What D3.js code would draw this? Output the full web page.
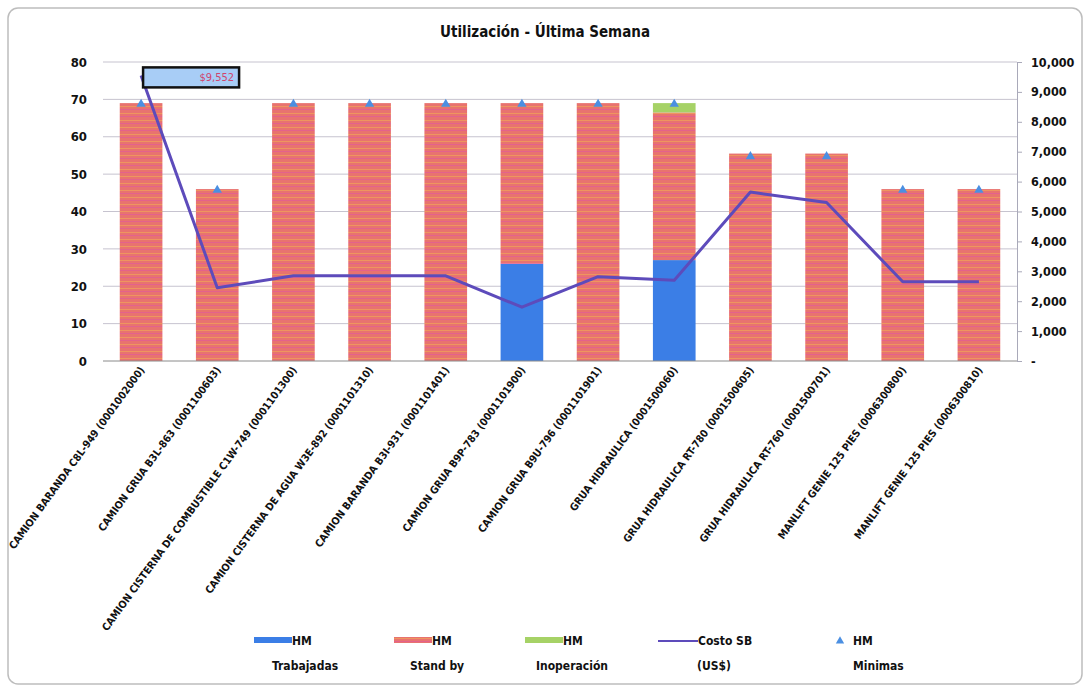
<!DOCTYPE html>
<html>
<head>
<meta charset="utf-8">
<script src="https://cdn.jsdelivr.net/npm/d3@7"></script>
<style>
  body { margin: 0; background: #fff; }
  svg text { font-family: "Liberation Sans Narrow", "DejaVu Sans Condensed", "Liberation Sans", sans-serif; font-weight: bold; fill: #111; }
</style>
</head>
<body>
<div id="chart-area"></div>
<script>
// equipment names (x axis)
const categories = [
  'CAMION BARANDA C8L-949 (0001002000)',
  'CAMION GRUA B3L-863 (0001100603)',
  'CAMION CISTERNA DE COMBUSTIBLE C1W-749 (0001101300)',
  'CAMION CISTERNA DE AGUA W3E-892 (0001101310)',
  'CAMION BARANDA B3I-931 (0001101401)',
  'CAMION GRUA B9P-783 (0001101900)',
  'CAMION GRUA B9U-796 (0001101901)',
  'GRUA HIDRAULICA (0001500060)',
  'GRUA HIDRAULICA RT-780 (0001500605)',
  'GRUA HIDRAULICA RT-760 (0001500701)',
  'MANLIFT GENIE 125 PIES (0006300800)',
  'MANLIFT GENIE 125 PIES (0006300810)'
];
const hmTrabajadas  = [0, 0, 0, 0, 0, 26, 0, 27, 0, 0, 0, 0];
const hmStandBy     = [69, 46, 69, 69, 69, 43, 69, 39.5, 55.5, 55.5, 46, 46];
const hmInoperacion = [0, 0, 0, 0, 0, 0, 0, 2.5, 0, 0, 0, 0];
const costoSB       = [9552, 2450, 2850, 2850, 2850, 1800, 2820, 2700, 5650, 5300, 2650, 2650];
const hmMinimas     = [69, 46, 69, 69, 69, 69, 69, 69, 55, 55, 46, 46];
const leftTicks  = [0, 10, 20, 30, 40, 50, 60, 70, 80];
const rightTicks = [0, 1000, 2000, 3000, 4000, 5000, 6000, 7000, 8000, 9000, 10000];
const costoLabel = '$9,552';

const width = 1088, height = 691;
const plotLeft = 103, plotRight = 1017, plotTop = 62, plotBottom = 361;

const svg = d3.select('#chart-area')
  .append('svg')
  .attr('width', width)
  .attr('height', height);

// chart frame
svg.append('rect')
  .attr('x', 8).attr('y', 8)
  .attr('width', 1074).attr('height', 676)
  .attr('rx', 10)
  .attr('fill', 'white')
  .attr('stroke', '#bdbdbd')
  .attr('stroke-width', 1.5);

// striped fill for stand by
const defs = svg.append('defs');
const pat = defs.append('pattern')
  .attr('id', 'standby')
  .attr('patternUnits', 'userSpaceOnUse')
  .attr('width', 8).attr('height', 7);
pat.append('rect').attr('width', 8).attr('height', 7).attr('fill', '#e8736f');
pat.append('rect').attr('y', 1).attr('width', 8).attr('height', 1).attr('fill', '#ee955f');
pat.append('rect').attr('y', 4).attr('width', 8).attr('height', 1).attr('fill', '#e4628c');

const x = d3.scaleBand()
  .domain(categories)
  .range([plotLeft, plotRight])
  .paddingInner(0.44)
  .paddingOuter(0.22);

const y = d3.scaleLinear().domain([0, 80]).range([plotBottom, plotTop]);
const y2 = d3.scaleLinear().domain([0, 10000]).range([plotBottom, plotTop]);

// title
svg.append('text')
  .attr('x', 545).attr('y', 37)
  .attr('text-anchor', 'middle')
  .style('font-size', '15px')
  .text('Utilización - Última Semana');

// gridlines
svg.append('g')
  .selectAll('line')
  .data(leftTicks.filter(d => d > 0))
  .enter().append('line')
  .attr('x1', plotLeft).attr('x2', plotRight)
  .attr('y1', d => y(d)).attr('y2', d => y(d))
  .attr('stroke', '#c6c3cf')
  .attr('stroke-width', 1);

// left axis
const gLeft = svg.append('g')
  .attr('transform', `translate(${plotLeft},0)`)
  .call(d3.axisLeft(y).tickValues(leftTicks).tickSize(0).tickPadding(16));
gLeft.select('.domain').remove();
gLeft.selectAll('text').style('font-size', '13px');

// right axis
const gRight = svg.append('g')
  .attr('transform', `translate(${plotRight},0)`)
  .call(d3.axisRight(y2).tickValues(rightTicks).tickSize(5).tickPadding(9)
    .tickFormat(d => d === 0 ? '-' : d3.format(',')(d)));
gRight.select('.domain').attr('stroke', '#a9a9b9');
gRight.selectAll('line').attr('stroke', '#a9a9b9');
gRight.selectAll('text').style('font-size', '12.5px');

// stacked bars
const series = [
  {key: 'trab', fill: '#3b7ee6'},
  {key: 'stand', fill: 'url(#standby)'},
  {key: 'inop', fill: '#a6d266'}
];
const rows = categories.map((c, i) => ({cat: c, trab: hmTrabajadas[i], stand: hmStandBy[i], inop: hmInoperacion[i]}));
const stack = d3.stack().keys(series.map(s => s.key))(rows);

svg.append('g')
  .selectAll('g')
  .data(stack)
  .enter().append('g')
  .attr('fill', (d, i) => series[i].fill)
  .selectAll('rect')
  .data(d => d)
  .enter().append('rect')
  .attr('x', d => x(d.data.cat))
  .attr('y', d => y(d[1]))
  .attr('width', x.bandwidth())
  .attr('height', d => y(d[0]) - y(d[1]));

// bottom axis line
svg.append('line')
  .attr('x1', plotLeft).attr('x2', plotRight)
  .attr('y1', plotBottom).attr('y2', plotBottom)
  .attr('stroke', '#8a8a8a');

// x labels
svg.append('g')
  .selectAll('text')
  .data(categories)
  .enter().append('text')
  .attr('transform', d => `translate(${x(d) + x.bandwidth() / 2 + 4},${plotBottom + 9}) rotate(-54)`)
  .attr('text-anchor', 'end')
  .style('font-size', '10.5px')
  .text(d => d);

// cost line
const line = d3.line()
  .x((d, i) => x(categories[i]) + x.bandwidth() / 2)
  .y(d => y2(d));

svg.append('path')
  .datum(costoSB)
  .attr('d', line)
  .attr('fill', 'none')
  .attr('stroke', '#5d4bbb')
  .attr('stroke-width', 3)
  .attr('stroke-linejoin', 'round');

// minimum markers
svg.append('g')
  .selectAll('path')
  .data(hmMinimas)
  .enter().append('path')
  .attr('transform', (d, i) => `translate(${x(categories[i]) + x.bandwidth() / 2},${y(d) + 1})`)
  .attr('d', d3.symbol().type(d3.symbolTriangle).size(38))
  .attr('fill', '#4b8fe2');

// data label on first cost point
const lx = x(categories[0]) + x.bandwidth() / 2 + 2;
const ly = y2(costoSB[0]) - 8;
svg.append('rect')
  .attr('x', lx).attr('y', ly)
  .attr('width', 96).attr('height', 20)
  .attr('fill', '#a8cdf6')
  .attr('stroke', '#111')
  .attr('stroke-width', 2.5);
svg.append('text')
  .attr('x', lx + 91).attr('y', ly + 14)
  .attr('text-anchor', 'end')
  .style('font-size', '11px')
  .style('font-weight', 'normal')
  .style('fill', '#d0456e')
  .text(costoLabel);

// legend
const legend = [
  {l1: 'HM', l2: 'Trabajadas', type: 'rect', fill: '#3b7ee6', x: 254, l2x: 272},
  {l1: 'HM', l2: 'Stand by', type: 'rect', fill: 'url(#standby)', x: 394, l2x: 410},
  {l1: 'HM', l2: 'Inoperación', type: 'rect', fill: '#a6d266', x: 525, l2x: 536},
  {l1: 'Costo SB', l2: '(US$)', type: 'line', fill: '#5d4bbb', x: 658, l2x: 697},
  {l1: 'HM', l2: 'Minimas', type: 'tri', fill: '#4b8fe2', x: 832, l2x: 853}
];
const lg = svg.append('g');
legend.forEach(d => {
  if (d.type === 'rect') {
    lg.append('rect').attr('x', d.x).attr('y', 637).attr('width', 38).attr('height', 6).attr('fill', d.fill);
  } else if (d.type === 'line') {
    lg.append('line').attr('x1', d.x).attr('x2', d.x + 40).attr('y1', 641).attr('y2', 641)
      .attr('stroke', d.fill).attr('stroke-width', 2);
  } else {
    lg.append('path').attr('transform', `translate(${d.x + 8},641)`)
      .attr('d', d3.symbol().type(d3.symbolTriangle).size(30)).attr('fill', d.fill);
  }
  lg.append('text').attr('x', d.type === 'tri' ? d.l2x : d.x + (d.type === 'line' ? 40 : 38)).attr('y', 645)
    .style('font-size', '12px').text(d.l1);
  lg.append('text').attr('x', d.l2x).attr('y', 670)
    .style('font-size', '12px').text(d.l2);
});
</script>
</body>
</html>
